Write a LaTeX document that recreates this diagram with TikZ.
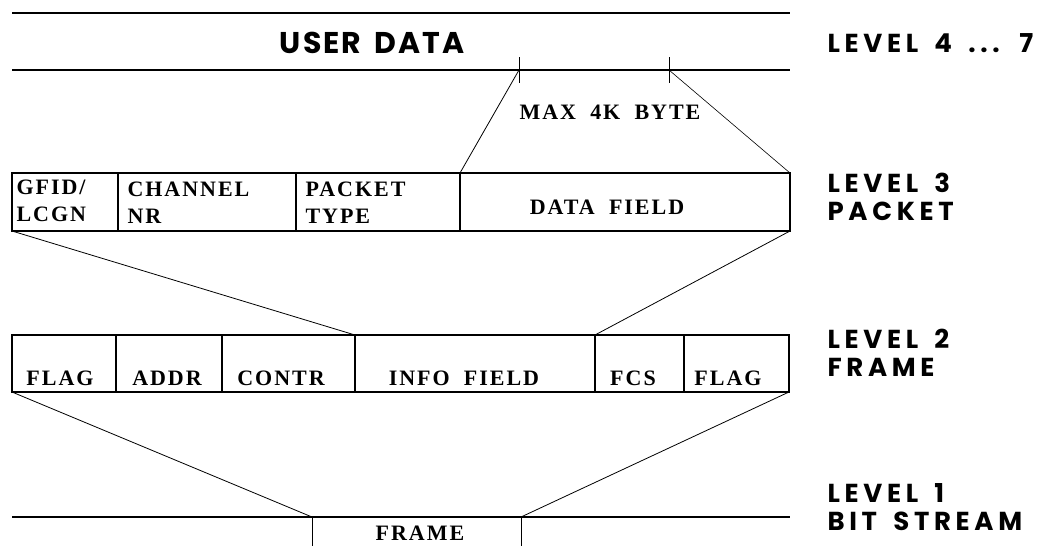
\documentclass[tikz,border=0pt]{standalone}
\usepackage{fontspec}
\setmainfont{Liberation Serif}
\newfontfamily\fieldfont[LetterSpace=9,WordSpace=1.9]{Liberation Serif}
\newfontfamily\levelfont[LetterSpace=18,WordSpace=1.6]{Poppins}
\newfontfamily\userfont[LetterSpace=7,WordSpace=1.5]{Poppins}
\usetikzlibrary{positioning}

\begin{document}
\begin{tikzpicture}[x=1pt,y=-1pt,line width=1.1pt,node distance=0pt]
  \tikzstyle{cell}=[draw,rectangle,inner sep=0pt,outer sep=0pt]
  \tikzstyle{bar}=[rectangle,inner sep=0pt,outer sep=0pt]
  \tikzstyle{fld}=[font=\fieldfont\bfseries\fontsize{22}{27}\selectfont,inner sep=0pt,align=left]
  \tikzstyle{lvl}=[font=\levelfont\bfseries\fontsize{26}{28}\selectfont,inner sep=0pt,align=left,anchor=base west]
  \useasboundingbox (0,0) rectangle (1039,546);

  % level 4 ... 7
  \node[bar,minimum width=778pt,minimum height=57pt] (user) at (401,41.5) {};
  \node[font=\userfont\bfseries\fontsize{30}{32}\selectfont,anchor=base] (usertxt) at (372,53) {USER DATA};
  \draw (user.north west) -- (user.north east);
  \draw (user.south west) -- (user.south east);
  \coordinate (tickA) at (519,70);
  \coordinate (tickB) at (669,70);
  \draw[line width=0.7pt] ([yshift=13pt]tickA) -- ([yshift=-13pt]tickA);
  \draw[line width=0.7pt] ([yshift=13pt]tickB) -- ([yshift=-13pt]tickB);
  \node[fld,anchor=base] (maxtxt) at (610,119) {MAX 4K BYTE};

  % level 3 packet
  \node[cell,minimum width=106pt,minimum height=58pt] (gfid) at (65,202) {};
  \node[cell,minimum width=178pt,minimum height=58pt,right=of gfid] (chan) {};
  \node[cell,minimum width=164pt,minimum height=58pt,right=of chan] (ptype) {};
  \node[cell,minimum width=330pt,minimum height=58pt,right=of ptype] (dfield) {};
  \node[fld,anchor=base west] (gfidtxt) at (16,221) {GFID/\\LCGN};
  \node[fld,anchor=base west] (chantxt) at (127,223) {CHANNEL\\NR};
  \node[fld,anchor=base west] (ptypetxt) at (305,223) {PACKET\\TYPE};
  \node[fld,anchor=base] (dfieldtxt) at (607,214) {DATA FIELD};

  % level 2 frame
  \node[cell,minimum width=104pt,minimum height=57pt] (flagA) at (64,363.5) {};
  \node[cell,minimum width=106pt,minimum height=57pt,right=of flagA] (addr) {};
  \node[cell,minimum width=133pt,minimum height=57pt,right=of addr] (contr) {};
  \node[cell,minimum width=240pt,minimum height=57pt,right=of contr] (info) {};
  \node[cell,minimum width=89pt,minimum height=57pt,right=of info] (fcs) {};
  \node[cell,minimum width=105pt,minimum height=57pt,right=of fcs] (flagB) {};
  \node[fld,anchor=base] (flagAtxt) at (60,385) {FLAG};
  \node[fld,anchor=base] (addrtxt) at (167,385) {ADDR};
  \node[fld,anchor=base] (contrtxt) at (281,385) {CONTR};
  \node[fld,anchor=base] (infotxt) at (464,385) {INFO FIELD};
  \node[fld,anchor=base] (fcstxt) at (633,385) {FCS};
  \node[fld,anchor=base] (flagBtxt) at (728,385) {FLAG};

  % level 1 bit stream
  \node[bar,minimum width=778pt,minimum height=29pt] (stream) at (401,531.5) {};
  \node[bar,minimum width=209pt,minimum height=29pt] (frame) at (416.5,531.5) {};
  \draw (stream.north west) -- (stream.north east);
  \draw[line width=0.7pt] (frame.north west) -- (frame.south west);
  \draw[line width=0.7pt] (frame.north east) -- (frame.south east);
  \node[fld,anchor=base] (frametxt) at (420,540) {FRAME};

  % expansions between levels
  \draw[line width=0.8pt] (tickA) -- (dfield.north west);
  \draw[line width=0.6pt] (tickB) -- (dfield.north east);
  \draw[line width=0.8pt] (gfid.south west) -- (info.north west);
  \draw[line width=0.8pt] (dfield.south east) -- (info.north east);
  \draw[line width=0.8pt] (flagA.south west) -- (frame.north west);
  \draw[line width=0.8pt] (flagB.south east) -- (frame.north east);

  % level names
  \node[lvl] (lvl4) at (827,52) {LEVEL 4 ... 7};
  \node[lvl] (lvl3) at (827,220) {LEVEL 3\\PACKET};
  \node[lvl] (lvl2) at (827,376) {LEVEL 2\\FRAME};
  \node[lvl] (lvl1) at (827,530) {LEVEL 1\\BIT STREAM};
\end{tikzpicture}
\end{document}
